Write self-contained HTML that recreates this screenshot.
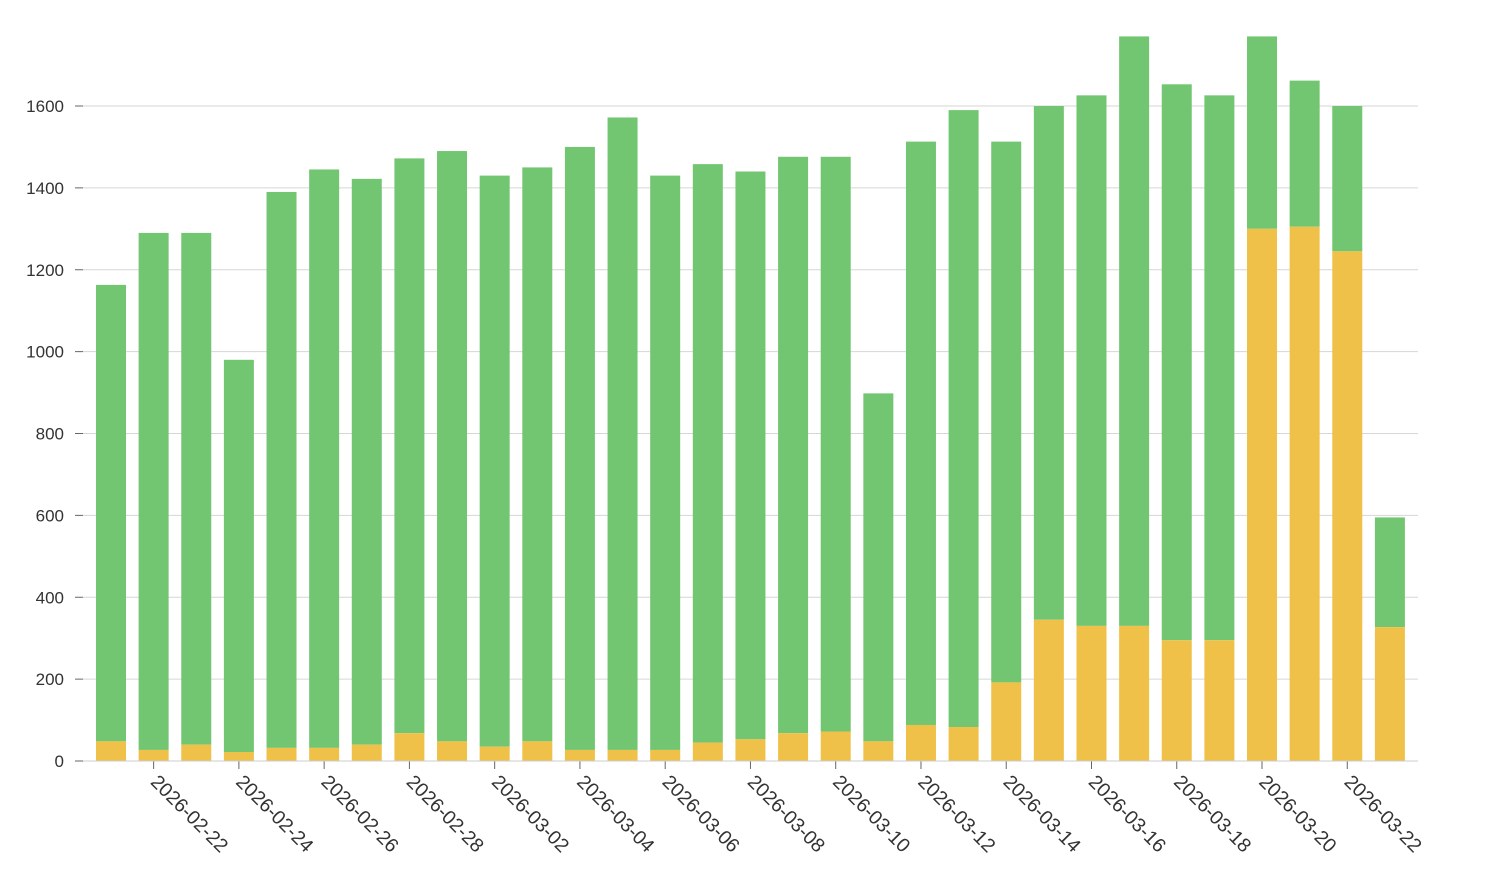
<!DOCTYPE html>
<html><head><meta charset="utf-8"><style>body{margin:0;background:#fff}svg{display:block}text{font-family:"Liberation Sans",sans-serif;font-size:17px;fill:#333}</style></head>
<body>
<svg width="1500" height="875" xmlns="http://www.w3.org/2000/svg">
<g id="grid" stroke="#d6d6d6" stroke-width="1"></g>
<g id="bars"></g>
<g id="axis"></g>
</svg>
<script>
const ns="http://www.w3.org/2000/svg";
function el(t,a,p,txt){const e=document.createElementNS(ns,t);for(const k in a)e.setAttribute(k,a[k]);if(txt!=null)e.textContent=txt;document.getElementById(p).appendChild(e);return e;}
const y0=761,s=655/1600;
for(let v=0;v<=1600;v+=200){const y=y0-v*s;el('line',{x1:83,x2:1418,y1:y,y2:y},'grid');el('line',{x1:75,x2:83,y1:y,y2:y,stroke:'#666'},'axis');el('text',{x:64,y:y+6,'text-anchor':'end'},'axis',v);}
const d=[[1163,48],[1290,27],[1290,40],[980,22],[1390,32],[1445,32],[1422,40],[1472,68],[1490,48],[1430,35],[1450,48],[1500,27],[1572,27],[1430,27],[1458,45],[1440,53],[1476,68],[1476,72],[898,48],[1513,88],[1590,83],[1513,192],[1600,345],[1626,330],[1770,330],[1653,295],[1626,295],[1770,1300],[1662,1305],[1600,1245],[595,327]];
const dates=[];let dt=new Date(Date.UTC(2026,1,21));for(let i=0;i<31;i++){dates.push(dt.toISOString().slice(0,10));dt=new Date(dt.getTime()+86400000);}
d.forEach((b,i)=>{const cx=111+i*42.63,x=cx-15;
el('rect',{x:x,y:y0-b[0]*s,width:30,height:(b[0]-b[1])*s,fill:'#73c671'},'bars');
el('rect',{x:x,y:y0-b[1]*s,width:30,height:b[1]*s,fill:'#f0c148'},'bars');
if(i%2==1){el('line',{x1:cx,x2:cx,y1:y0,y2:y0+8,stroke:'#666'},'axis');
el('text',{x:0,y:0,style:'font-size:19.5px',transform:`translate(${cx-4},${y0+22}) rotate(45)`},'axis',dates[i]);}
});
el('line',{x1:83,x2:1418,y1:y0,y2:y0,stroke:'#ccc'},'axis');
</script>
</body></html>
